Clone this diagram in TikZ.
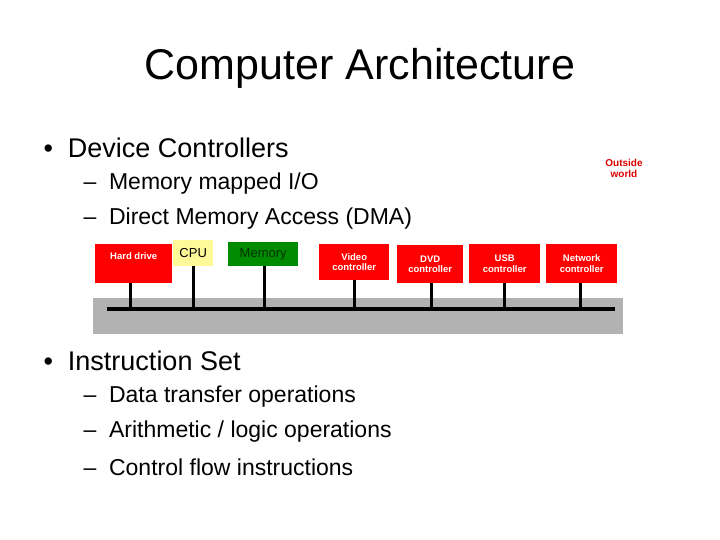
\documentclass[tikz,border=0pt]{standalone}
\usepackage{fontspec}
\setmainfont{Liberation Sans}
\begin{document}
\begin{tikzpicture}[x=1pt,y=-1pt,
  dev/.style={fill=red,text=white,font=\fontsize{9.5}{10.5}\selectfont\bfseries,align=center,inner sep=0pt},
  stem/.style={line width=3pt},
  item/.style={anchor=west,font=\fontsize{27}{32}\selectfont},
  sub/.style={anchor=west,font=\fontsize{23}{27}\selectfont}]
\useasboundingbox (0,0) rectangle (720,540);

\node (title) at (360,68) {\fontsize{43}{50}\selectfont Computer Architecture};

\node[item] (b1) at (40,148) {\textbullet\ \ Device Controllers};
\node[sub] (s1) at (80,184) {--\ \ Memory mapped I/O};
\node[sub] (s2) at (80,219) {--\ \ Direct Memory Access (DMA)};
\node[item] (b2) at (40,361) {\textbullet\ \ Instruction Set};
\node[sub] (s3) at (80,397) {--\ \ Data transfer operations};
\node[sub] (s4) at (80,432) {--\ \ Arithmetic / logic operations};
\node[sub] (s5) at (80,467) {--\ \ Control flow instructions};

\node[text=red!85!black,font=\fontsize{10}{11}\selectfont\bfseries,align=center] (world) at (624,168) {Outside\\world};

% bus
\fill[black!30] (93,298) rectangle (623,334);
\coordinate (busL) at (107,309);
\coordinate (busR) at (615,309);
\draw[line width=3.5pt] (busL) -- (busR);

% devices
\node[dev,minimum width=77pt,minimum height=39pt,anchor=north west] (hd) at (95,244) {};
\node[dev,anchor=north] at (hd.north) [yshift=-8pt] {Hard drive};
\node[fill=yellow!40,font=\fontsize{13}{14}\selectfont,minimum width=40pt,minimum height=26pt,anchor=north west,inner sep=0pt] (cpu) at (173,240) {CPU};
\node[fill=green!55!black,text=green!20!black,font=\fontsize{13}{14}\selectfont,minimum width=70pt,minimum height=24pt,anchor=north west,inner sep=0pt] (mem) at (228,242) {Memory};
\node[dev,minimum width=70pt,minimum height=36pt,anchor=north west] (video) at (319,244) {Video\\controller};
\node[dev,minimum width=66pt,minimum height=38pt,anchor=north west] (dvd) at (397,245) {DVD\\controller};
\node[dev,minimum width=71pt,minimum height=39pt,anchor=north west] (usb) at (469,244) {USB\\controller};
\node[dev,minimum width=71pt,minimum height=39pt,anchor=north west] (net) at (546,244) {Network\\controller};

\foreach \d/\x in {hd/130,cpu/193,mem/264,video/354,dvd/431,usb/504,net/580}
  \draw[stem] (\d.south -| \x,0) -- (\x,309);
\end{tikzpicture}
\end{document}
